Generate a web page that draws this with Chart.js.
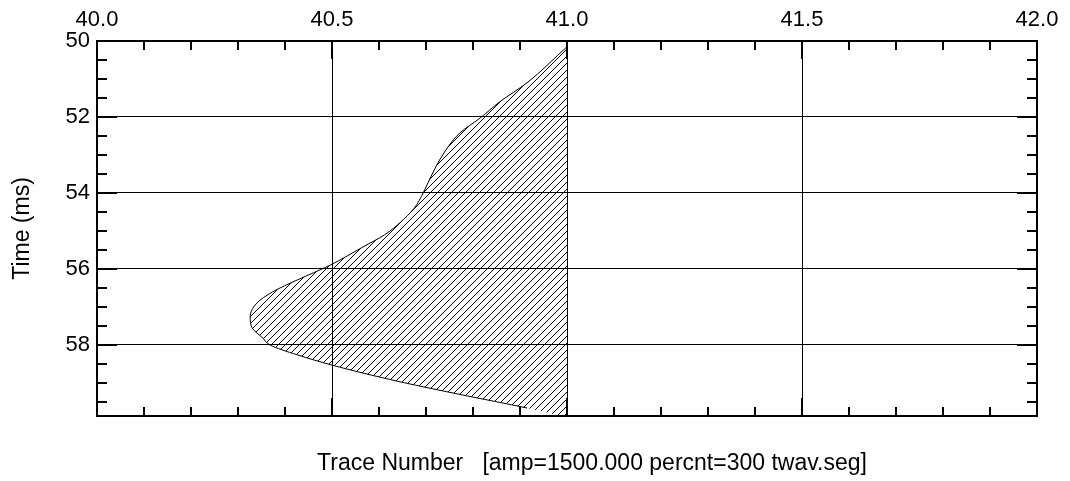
<!DOCTYPE html>
<html>
<head>
<meta charset="utf-8">
<script src="https://cdn.jsdelivr.net/npm/chart.js@4.4.1/dist/chart.umd.min.js"></script>
<style>
  html, body { margin: 0; padding: 0; background: #fff; }
  canvas { display: block; }
</style>
</head>
<body>
<canvas id="trace" width="1070" height="481"></canvas>
<script>
// trace 41, shaded wiggle: time (ms) down the page, amplitude across
const traceTime = [50.15, 51.1, 51.6, 52.03, 52.42, 52.95, 53.58, 54.0, 54.4, 54.8, 55.1, 55.42, 55.9, 56.29, 56.6, 56.9, 57.26, 57.55, 57.82, 58.0, 58.26, 58.53, 58.74, 58.97, 59.32, 59.66, 59.9]
const traceValue = [41.0, 40.915, 40.857, 40.815, 40.772, 40.738, 40.71, 40.694, 40.675, 40.643, 40.612, 40.566, 40.496, 40.426, 40.374, 40.34, 40.326, 40.33, 40.353, 40.368, 40.426, 40.5, 40.566, 40.645, 40.779, 40.915, 41.0]
const traceBase = 41.0
const outlineEnd = 59.66

const xTicks = [40.0, 40.5, 41.0, 41.5, 42.0]
const yTicks = [50, 52, 54, 56, 58]
const xRange = [40.0, 42.0]
const yRange = [50, 59.87]

const caption = "Trace Number   [amp=1500.000 percnt=300 twav.seg]"
const FONT = "'Liberation Sans', Arial, Helvetica, sans-serif"

const canvas = document.getElementById("trace")
const ctx = canvas.getContext("2d")

// diagonal "///" hatch used for the positive lobe
function hatchPattern() {
  const s = 7
  const tile = document.createElement("canvas")
  tile.width = s
  tile.height = s
  const g = tile.getContext("2d")
  g.strokeStyle = "#000"
  g.lineWidth = 1
  g.beginPath()
  g.moveTo(0, s); g.lineTo(s, 0)
  g.moveTo(-1, 1); g.lineTo(1, -1)
  g.moveTo(s - 1, s + 1); g.lineTo(s + 1, s - 1)
  g.stroke()
  return ctx.createPattern(tile, "repeat")
}

// inward minor/major ticks on all four sides, frame and the bottom caption
const frameTicks = {
  id: "frameTicks",
  afterDraw(chart) {
    const { ctx, chartArea: a, scales: { x, y } } = chart
    ctx.save()
    ctx.strokeStyle = "#000"
    ctx.lineWidth = 2
    ctx.beginPath()
    for (let i = 0; i <= 20; i++) {
      const px = Math.round(x.getPixelForValue(xRange[0] + i * 0.1))
      const len = i % 5 === 0 ? 18 : 9
      ctx.moveTo(px, a.top); ctx.lineTo(px, a.top + len)
      ctx.moveTo(px, a.bottom); ctx.lineTo(px, a.bottom - len)
    }
    for (let i = 0; i < 20; i++) {
      const py = Math.round(y.getPixelForValue(yRange[0] + i * 0.5))
      const len = i % 4 === 0 ? 20 : 10
      ctx.moveTo(a.left, py); ctx.lineTo(a.left + len, py)
      ctx.moveTo(a.right, py); ctx.lineTo(a.right - len, py)
    }
    ctx.stroke()
    ctx.strokeRect(a.left, a.top, a.right - a.left, a.bottom - a.top)

    ctx.fillStyle = "#000"
    ctx.font = "23px " + FONT
    ctx.textAlign = "center"
    ctx.textBaseline = "alphabetic"
    ctx.fillText(caption, (a.left + a.right) / 2 + 25, a.bottom + 54)
    ctx.restore()
  }
}

new Chart(ctx, {
  type: "line",
  data: {
    datasets: [{
      data: traceTime.map((t, i) => ({ x: traceValue[i], y: t })),
      borderColor: "#000",
      borderWidth: 1,
      backgroundColor: hatchPattern(),
      fill: { value: traceBase },
      cubicInterpolationMode: "monotone",
      pointRadius: 0,
      segment: {
        borderColor: c => c.p0.parsed.y >= outlineEnd ? "rgba(0,0,0,0)" : "#000"
      }
    }]
  },
  options: {
    responsive: false,
    animation: false,
    indexAxis: "y",
    layout: { padding: { left: 0, top: 0, right: 33, bottom: 65 } },
    plugins: {
      legend: { display: false },
      tooltip: { enabled: false }
    },
    scales: {
      x: {
        type: "linear",
        position: "top",
        min: xRange[0],
        max: xRange[1],
        afterBuildTicks: s => { s.ticks = xTicks.map(v => ({ value: v })) },
        afterFit: s => { s.height = 41 },
        grid: { color: "#000", lineWidth: 1, drawTicks: false },
        border: { display: false },
        ticks: {
          color: "#000",
          font: { family: FONT, size: 22 },
          padding: 8,
          maxRotation: 0,
          autoSkip: false,
          callback: v => Number(v).toFixed(1)
        }
      },
      y: {
        type: "linear",
        reverse: true,
        min: yRange[0],
        max: yRange[1],
        afterBuildTicks: s => { s.ticks = yTicks.map(v => ({ value: v })) },
        afterFit: s => { s.width = 97 },
        grid: { color: "#000", lineWidth: 1, drawTicks: false },
        border: { display: false },
        ticks: {
          color: "#000",
          font: { family: FONT, size: 22 },
          padding: 7,
          autoSkip: false,
          callback: v => String(v)
        },
        title: {
          display: true,
          text: "Time (ms)",
          color: "#000",
          font: { family: FONT, size: 23 },
          padding: { top: 9, bottom: 0 }
        }
      }
    }
  },
  plugins: [frameTicks]
})
</script>
</body>
</html>
